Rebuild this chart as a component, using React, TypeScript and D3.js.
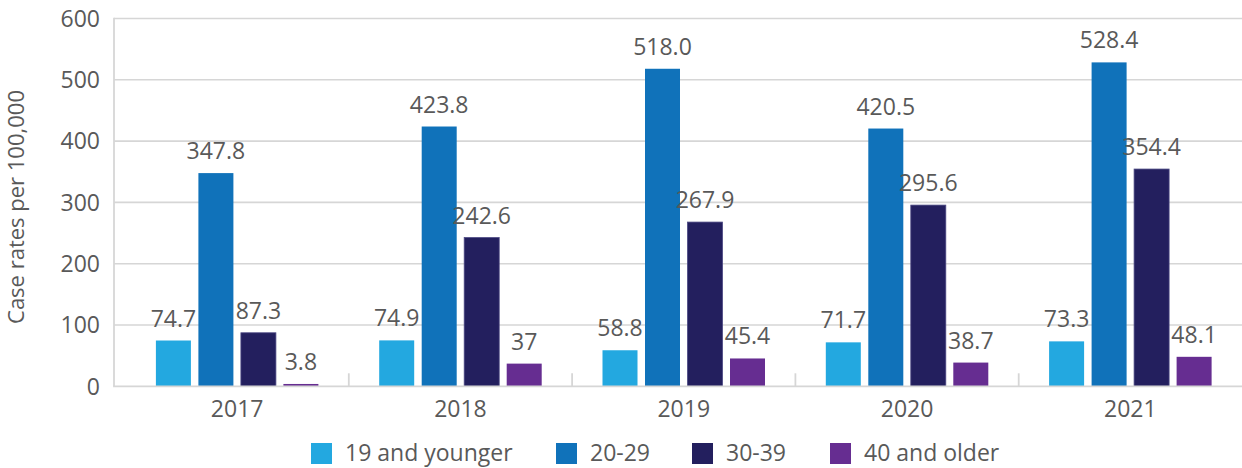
import React from "react";
import * as d3 from "d3";

const years = ["2017", "2018", "2019", "2020", "2021"];
const seriesNames = ["19 and younger", "20-29", "30-39", "40 and older"];
const age19Under = [74.7, 74.9, 58.8, 71.7, 73.3];
const age20to29 = [347.8, 423.8, 518.0, 420.5, 528.4];
const age30to39 = [87.3, 242.6, 267.9, 295.6, 354.4];
const age40Over = [3.8, 37, 45.4, 38.7, 48.1];
const labels19 = ["74.7", "74.9", "58.8", "71.7", "73.3"];
const labels20 = ["347.8", "423.8", "518.0", "420.5", "528.4"];
const labels30 = ["87.3", "242.6", "267.9", "295.6", "354.4"];
const labels40 = ["3.8", "37", "45.4", "38.7", "48.1"];
const yTicks = [0, 100, 200, 300, 400, 500, 600];
const colors = ["#23a8e0", "#1072ba", "#231f5e", "#662d91"];

const W = 1242;
const H = 468;
const FONT = "'Open Sans', 'Noto Sans', sans-serif";
const TEXT = "#595959";
const GRID = "#d6d6d6";

export default function App() {
  const values = [age19Under, age20to29, age30to39, age40Over];
  const labels = [labels19, labels20, labels30, labels40];
  const y = d3.scaleLinear().domain([0, 600]).range([386.3, 18.5]);
  const x0 = d3.scaleBand().domain(years).range([125.5, 1242]).padding(0);
  const groupW = 162.5;
  const x1 = d3
    .scaleBand()
    .domain(seriesNames)
    .range([0, groupW])
    .paddingInner(7.5 / 42.5)
    .paddingOuter(0);
  const plotLeft = 114;
  const plotRight = 1242;

  const legendX = [311, 556, 692, 830];

  return (
    <svg
      width={W}
      height={H}
      style={{ position: "absolute", left: 0, top: 0, display: "block" }}
      fontFamily={FONT}
    >
      <rect x={0} y={0} width={W} height={H} fill="#ffffff" />
      {yTicks.map((t) => (
        <g key={t}>
          {t > 0 && (
            <line
              x1={plotLeft}
              x2={plotRight}
              y1={y(t)}
              y2={y(t)}
              stroke={GRID}
              strokeWidth={1.6}
            />
          )}
          <text
            x={100}
            y={y(t)}
            dy="0.36em"
            textAnchor="end"
            fontSize={23}
            fill={TEXT}
          >
            {t}
          </text>
        </g>
      ))}
      <line x1={plotLeft} x2={plotLeft} y1={y(600) - 0.8} y2={y(0)} stroke={GRID} strokeWidth={1.8} />
      {years.slice(1).map((yr) => (
        <line
          key={yr}
          x1={x0(yr)!}
          x2={x0(yr)!}
          y1={y(0) - 13}
          y2={y(0)}
          stroke={GRID}
          strokeWidth={1.8}
        />
      ))}
      {years.map((yr, i) => {
        const gx = x0(yr)! + (x0.bandwidth() - groupW) / 2;
        return (
          <g key={yr}>
            {seriesNames.map((s, j) => {
              const v = values[j][i];
              const bx = gx + x1(s)!;
              return (
                <g key={s}>
                  <rect
                    x={bx}
                    y={y(v)}
                    width={x1.bandwidth()}
                    height={y(0) - y(v)}
                    fill={colors[j]}
                    stroke={j === 2 ? "#4b4883" : "none"}
                    strokeWidth={j === 2 ? 0.8 : 0}
                  />
                  <text
                    x={bx + x1.bandwidth() / 2}
                    y={y(v) - 14}
                    textAnchor="middle"
                    fontSize={23}
                    fill={TEXT}
                  >
                    {labels[j][i]}
                  </text>
                </g>
              );
            })}
            <text
              x={x0(yr)! + x0.bandwidth() / 2}
              y={417}
              textAnchor="middle"
              fontSize={23}
              fill={TEXT}
            >
              {yr}
            </text>
          </g>
        );
      })}
      <line x1={plotLeft - 0.9} x2={plotRight} y1={y(0)} y2={y(0)} stroke={GRID} strokeWidth={1.8} />
      <text
        transform={`translate(24, 207) rotate(-90)`}
        textAnchor="middle"
        fontSize={22}
        fill={TEXT}
      >
        Case rates per 100,000
      </text>
      {seriesNames.map((s, j) => (
        <g key={s}>
          <rect x={legendX[j]} y={443} width={21} height={21} fill={colors[j]} />
          <text x={legendX[j] + 34} y={461} fontSize={23} fill={TEXT}>
            {s}
          </text>
        </g>
      ))}
    </svg>
  );
}
